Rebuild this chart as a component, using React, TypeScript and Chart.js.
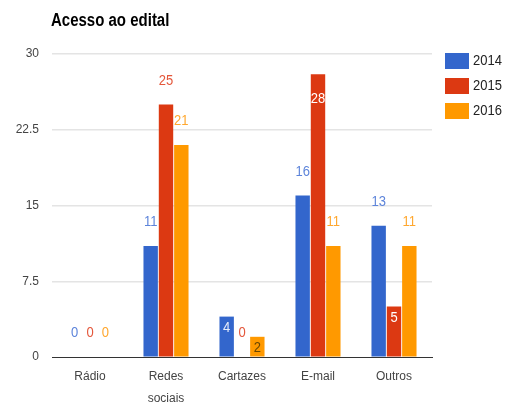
import React, { useEffect, useRef } from "react";
import { Chart, registerables } from "chart.js";

Chart.register(...registerables);

const title = "Acesso ao edital";
const categories: (string | string[])[] = ["Rádio", ["Redes", "sociais"], "Cartazes", "E-mail", "Outros"];
const seriesNames = ["2014", "2015", "2016"];
const values2014 = [0, 11, 4, 16, 13];
const values2015 = [0, 25, 0, 28, 5];
const values2016 = [0, 21, 2, 11, 11];
const yTicks = [0, 7.5, 15, 22.5, 30];

// style
const barColors = ["#3366cc", "#dc3912", "#ff9900"];
const labelColors = ["#5d84da", "#e4573b", "#ffa72e"];
const insideColors = ["#e6ecfa", "#ffffff", "#6b4700"];
// label placement per series/category: "a" above, "i" inside near top, "d" inside deeper
const placement = [
  ["a", "a", "i", "a", "a"],
  ["a", "a", "a", "d", "i"],
  ["a", "a", "i", "a", "a"],
];
const FONT = "'Liberation Sans', Arial, sans-serif";

const valueLabels = {
  id: "valueLabels",
  afterDatasetsDraw(chart: any) {
    const ctx = chart.ctx;
    chart.data.datasets.forEach((ds: any, i: number) => {
      const meta = chart.getDatasetMeta(i);
      meta.data.forEach((bar: any, j: number) => {
        const v = ds.data[j];
        const p = placement[i][j];
        let y = bar.y - 24;
        let color = labelColors[i];
        if (p === "i") { y = bar.y + 11; color = insideColors[i]; }
        if (p === "d") { y = bar.y + 25; color = insideColors[i]; }
        ctx.save();
        ctx.font = `13px ${FONT}`;
        ctx.textAlign = "center";
        ctx.textBaseline = "middle";
        ctx.fillStyle = color;
        ctx.translate(bar.x, y);
        ctx.scale(1, 1.15);
        ctx.fillText(String(v), 0, 0);
        ctx.restore();
      });
    });
  },
};

const titleAndLegend = {
  id: "titleAndLegend",
  afterDraw(chart: any) {
    const ctx = chart.ctx;
    ctx.save();
    ctx.fillStyle = "#000";
    ctx.textAlign = "left";
    ctx.textBaseline = "alphabetic";
    ctx.font = `bold 15px ${FONT}`;
    ctx.translate(51, 26);
    ctx.scale(1, 1.2);
    ctx.fillText(title, 0, 0);
    ctx.restore();

    const lx = chart.chartArea.right + 13;
    const ly = chart.chartArea.top - 1;
    seriesNames.forEach((name, k) => {
      ctx.save();
      ctx.fillStyle = barColors[k];
      ctx.fillRect(lx, ly + 25 * k, 24, 16);
      ctx.font = `13px ${FONT}`;
      ctx.textBaseline = "middle";
      ctx.textAlign = "left";
      ctx.fillStyle = "#222";
      ctx.translate(lx + 28, ly + 25 * k + 8);
      ctx.scale(1, 1.15);
      ctx.fillText(name, 0, 0);
      ctx.restore();
    });
  },
};

export default function App() {
  const ref = useRef<HTMLCanvasElement>(null);
  useEffect(() => {
    if (!ref.current) return;
    const chart = new Chart(ref.current, {
      type: "bar",
      data: {
        labels: categories as any,
        datasets: [values2014, values2015, values2016].map((d, i) => ({
          label: seriesNames[i],
          data: d,
          backgroundColor: barColors[i],
          barPercentage: 0.94,
          categoryPercentage: 0.605,
        })),
      },
      options: {
        animation: false,
        responsive: false,
        layout: { padding: { top: 54, right: 80, left: 0, bottom: 0 } },
        plugins: {
          legend: { display: false },
          title: { display: false },
          tooltip: { enabled: false },
        },
        scales: {
          x: {
            grid: { display: false },
            border: { display: true, color: "#333", width: 1 },
            ticks: {
              color: "#444",
              font: { family: FONT, size: 12, lineHeight: 1.8 },
              padding: 1,
              maxRotation: 0,
            },
            afterFit: (s: any) => { s.height = 53; },
          },
          y: {
            min: 0,
            max: 30,
            afterBuildTicks: (s: any) => { s.ticks = yTicks.map((v) => ({ value: v })); },
            grid: {
              color: (c: any) => (c.tick && c.tick.value === 0 ? "#333" : "#e4e4e4"),
              lineWidth: (c: any) => (c.tick && c.tick.value === 0 ? 1 : 1.5),
              drawTicks: false,
            },
            border: { display: false },
            ticks: {
              color: "#444",
              font: { family: FONT, size: 12 },
              padding: 13,
              callback: (v: any) => String(v),
            },
            afterFit: (s: any) => { s.width = 52; },
          },
        },
      },
      plugins: [valueLabels, titleAndLegend],
    });
    return () => chart.destroy();
  }, []);
  return (
    <div style={{ position: "fixed", left: 0, top: 0, width: 512, height: 410, background: "#fff" }}>
      <canvas ref={ref} width={512} height={410} />
    </div>
  );
}
